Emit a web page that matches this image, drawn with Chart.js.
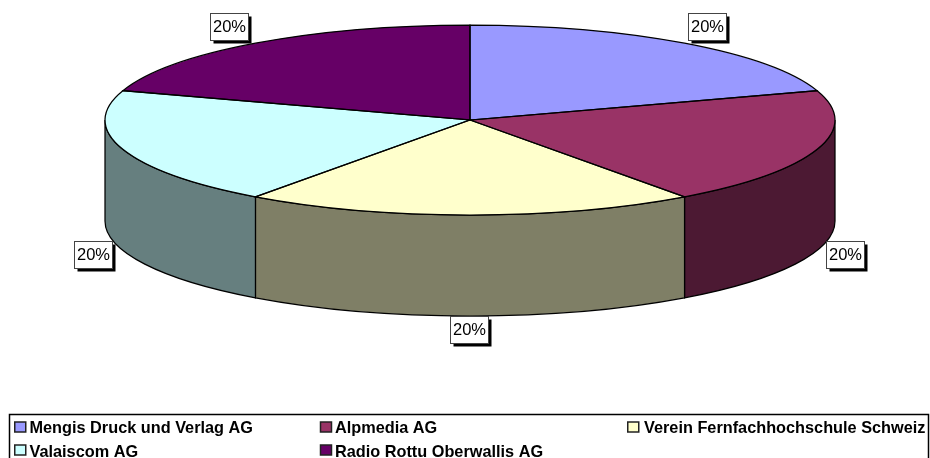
<!DOCTYPE html>
<html>
<head>
<meta charset="utf-8">
<title>Beteiligungen</title>
<script src="https://cdn.jsdelivr.net/npm/chart.js@4"></script>
<style>
    html, body { margin: 0; padding: 0; background: #fff; }
    canvas { display: block; }
</style>
</head>
<body>
<canvas id="shareChart" width="930" height="458"></canvas>
<script>
const companies = [
    'Mengis Druck und Verlag AG',
    'Alpmedia AG',
    'Verein Fernfachhochschule Schweiz',
    'Valaiscom AG',
    'Radio Rottu Oberwallis AG'
];
const shares = [20, 20, 20, 20, 20];
const topColors = ['#9999FF', '#993366', '#FFFFCC', '#CCFFFF', '#660066'];
const sideColors = ['#4D4D80', '#4C1933', '#7F7F66', '#667F7F', '#330033'];

const squash = 95 / 365;
const pieDepth = 101;
// nudges the percent boxes away from the rim, per slice
const labelNudge = [[22, -16], [28, 5], [-1, 14], [-30, 5], [-26, -16]];

// fake 3D: side walls under the arcs, arcs flattened into an ellipse
const tiltedPie = {
    id: 'tiltedPie',
    beforeDatasetsDraw(chart) {
        const ctx = chart.ctx;
        const arcs = chart.getDatasetMeta(0).data;
        arcs.forEach((arc, i) => {
            const a = Math.max(arc.startAngle, 0);
            const b = Math.min(arc.endAngle, Math.PI);
            if (a >= b) return;
            const rx = arc.outerRadius;
            ctx.beginPath();
            ctx.ellipse(arc.x, arc.y, rx, rx * squash, 0, a, b);
            ctx.ellipse(arc.x, arc.y + pieDepth, rx, rx * squash, 0, b, a, true);
            ctx.closePath();
            ctx.fillStyle = sideColors[i];
            ctx.fill();
            ctx.lineWidth = 1.25;
            ctx.strokeStyle = '#000';
            ctx.stroke();
        });
        const first = arcs[0];
        ctx.save();
        ctx.translate(first.x, first.y);
        ctx.scale(1, squash);
        ctx.translate(-first.x, -first.y);
    },
    afterDatasetsDraw(chart) {
        const ctx = chart.ctx;
        const arcs = chart.getDatasetMeta(0).data;
        ctx.restore();

        // outlines are stroked unscaled so the line keeps an even width
        arcs.forEach((arc) => {
            const rx = arc.outerRadius;
            ctx.beginPath();
            ctx.moveTo(arc.x, arc.y);
            ctx.ellipse(arc.x, arc.y, rx, rx * squash, 0, arc.startAngle, arc.endAngle);
            ctx.closePath();
            ctx.lineWidth = 1.25;
            ctx.strokeStyle = '#000';
            ctx.stroke();
        });

        const total = shares.reduce((sum, v) => sum + v, 0);
        ctx.font = '16.5px "Liberation Sans", Arial, sans-serif';
        ctx.textAlign = 'center';
        ctx.textBaseline = 'middle';
        arcs.forEach((arc, i) => {
            const mid = (arc.startAngle + arc.endAngle) / 2;
            const front = Math.sin(mid) > 0;
            const px = arc.x + Math.cos(mid) * arc.outerRadius + labelNudge[i][0];
            const py = arc.y + Math.sin(mid) * arc.outerRadius * squash + (front ? pieDepth : 0) + labelNudge[i][1];
            const left = Math.round(px - 19) + 0.5;
            const top = Math.round(py - 14) + 0.5;
            ctx.fillStyle = '#000';
            ctx.fillRect(left + 3, top + 3, 38, 27);
            ctx.fillStyle = '#fff';
            ctx.fillRect(left, top, 38, 27);
            ctx.lineWidth = 1;
            ctx.strokeStyle = '#444';
            ctx.strokeRect(left, top, 38, 27);
            ctx.fillStyle = '#000';
            ctx.fillText(Math.round(shares[i] / total * 100) + '%', left + 19, top + 14);
        });
    },
    afterDraw(chart) {
        // three column legend, its frame runs off the bottom edge
        const ctx = chart.ctx;
        const swatchX = [14.75, 320.5, 627.75];
        const swatchY = [422, 445];
        const textX = [29.5, 335, 644];
        const textY = [433, 457];
        ctx.lineWidth = 1.5;
        ctx.strokeStyle = '#000';
        ctx.strokeRect(9.5, 414.5, 919, 60);
        ctx.font = 'bold 16.3px "Liberation Sans", Arial, sans-serif';
        ctx.textAlign = 'left';
        ctx.textBaseline = 'alphabetic';
        chart.data.labels.forEach((label, i) => {
            const col = i % 3;
            const row = Math.floor(i / 3);
            ctx.fillStyle = topColors[i];
            ctx.fillRect(swatchX[col], swatchY[row], 11, 10);
            ctx.lineWidth = 1.5;
            ctx.strokeStyle = '#222';
            ctx.strokeRect(swatchX[col], swatchY[row], 11, 10);
            ctx.fillStyle = '#000';
            ctx.fillText(label, textX[col], textY[row]);
        });
    }
};

document.addEventListener('DOMContentLoaded', function () {
    const shareCtx = document.getElementById('shareChart').getContext('2d');
    new Chart(shareCtx, {
        type: 'pie',
        data: {
            labels: companies,
            datasets: [{
                data: shares,
                backgroundColor: topColors,
                borderWidth: 0,
                radius: 365,
                clip: false
            }]
        },
        options: {
            responsive: false,
            animation: false,
            layout: { padding: { left: 10, bottom: 218 } },
            plugins: {
                legend: { display: false },
                tooltip: { enabled: false }
            }
        },
        plugins: [tiltedPie]
    });
});
</script>
</body>
</html>
